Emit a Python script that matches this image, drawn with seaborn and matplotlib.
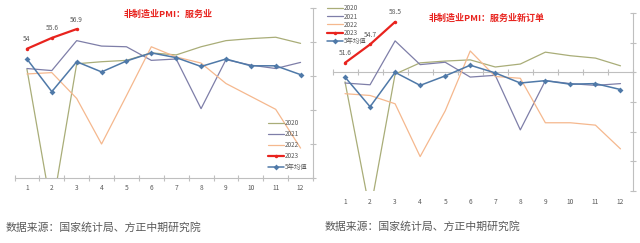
import matplotlib
matplotlib.use("Agg")
import matplotlib.pyplot as plt
import seaborn as sns
import pandas as pd
import numpy as np

months = list(range(1, 13))
month_labels = [str(m) for m in months]

# Left panel: 非制造业PMI：服务业
left_2020 = [51.0, 30.1, 51.8, 52.1, 52.3, 53.4, 53.1, 54.3, 55.2, 55.5, 55.7, 54.8]
left_2021 = [51.1, 50.8, 55.2, 54.4, 54.3, 52.3, 52.5, 45.2, 52.4, 51.6, 51.1, 52.0]
left_2022 = [50.3, 50.5, 46.7, 40.0, 47.1, 54.3, 52.8, 51.9, 48.9, 47.0, 45.1, 39.4]
left_2023 = [54.0, 55.6, 56.9]
left_avg = [52.5, 47.7, 52.1, 50.6, 52.2, 53.4, 52.7, 51.4, 52.5, 51.5, 51.5, 50.2]

# Right panel: 非制造业PMI：服务业新订单
right_2020 = [48.4, 26.5, 49.7, 51.6, 51.9, 52.1, 50.9, 51.4, 53.4, 52.8, 52.4, 51.1]
right_2021 = [48.2, 47.9, 55.3, 51.3, 51.7, 49.2, 49.5, 40.3, 48.6, 48.1, 47.8, 48.1]
right_2022 = [46.4, 46.1, 44.7, 35.8, 43.5, 53.6, 49.3, 49.0, 41.5, 41.5, 41.1, 37.1]
right_2023 = [51.6, 54.7, 58.5]
right_avg = [49.2, 44.2, 50.0, 47.8, 49.4, 51.2, 49.9, 48.2, 48.6, 48.0, 48.1, 47.1]

series_names = ["2020", "2021", "2022", "2023", "5年均值"]
colors = {"2020": "#A9AD78", "2021": "#7E7EA8", "2022": "#F5B88E",
          "2023": "#E8231E", "5年均值": "#4F79A8"}

sns.set_theme(style="white")
plt.rcParams['font.family'] = ['Noto Sans CJK SC', 'DejaVu Sans']
plt.rcParams['axes.unicode_minus'] = False

fig = plt.figure(figsize=(6.4, 2.43), dpi=100)
axL = fig.add_axes([14.5/640, 65/243, (313-14.5)/640, 170/243])
axR = fig.add_axes([332.5/640, 52/243, (633-332.5)/640, 178/243])

def make_df(vals):
    rows = []
    for name, v in zip(series_names, vals):
        for m, y in zip(months, v):
            rows.append({"月": m, "值": y, "系列": name})
    return pd.DataFrame(rows)

def draw(ax, vals):
    df = make_df(vals)
    for name in series_names:
        sub = df[df["系列"] == name]
        if name == "2023":
            sns.lineplot(data=sub, x="月", y="值", ax=ax, color=colors[name],
                         lw=1.6, marker="o", markersize=2.5, markeredgewidth=0,
                         label=name, zorder=5)
        elif name == "5年均值":
            sns.lineplot(data=sub, x="月", y="值", ax=ax, color=colors[name],
                         lw=1.1, marker="D", markersize=3, markeredgewidth=0,
                         label=name, zorder=4)
        else:
            sns.lineplot(data=sub, x="月", y="值", ax=ax, color=colors[name],
                         lw=0.9, label=name, zorder=3)
    ax.set_xlabel("")
    ax.set_ylabel("")
    ax.set_xlim(0.5, 12.5)
    ax.set_xticks(months)
    ax.set_xticklabels(month_labels)
    ax.set_xticks(np.arange(0.5, 13, 1), minor=True)
    for s in ["left", "top"]:
        ax.spines[s].set_visible(False)
    ax.spines["right"].set_color("#BFBFBF")
    ax.spines["right"].set_linewidth(0.8)
    ax.yaxis.tick_right()
    ax.tick_params(axis="y", which="major", right=True, left=False, length=5,
                   direction="inout", color="#BFBFBF", width=0.8, labelright=False)
    # data labels for 2023
    for m, y in zip(months, vals[3]):
        ax.annotate(f"{y:g}", (m, y), xytext=(0, 4), textcoords="offset points",
                    ha="center", va="bottom", fontsize=4.8, color="#595959")

draw(axL, [left_2020, left_2021, left_2022, left_2023, left_avg])
draw(axR, [right_2020, right_2021, right_2022, right_2023, right_avg])

# Left axis specifics
axL.set_ylim(35, 60)
axL.set_yticks(np.arange(35, 61, 5))
axL.spines["bottom"].set_color("#BFBFBF")
axL.spines["bottom"].set_linewidth(0.8)
axL.tick_params(axis="x", which="major", length=0, labelsize=4.8,
                labelcolor="#595959", pad=4)
axL.tick_params(axis="x", which="minor", bottom=True, length=4,
                direction="inout", color="#BFBFBF", width=0.8)
legL = axL.legend(loc="lower right", bbox_to_anchor=(0.995, 0.02), frameon=False,
                  fontsize=4.6, handlelength=2.4, handletextpad=0.2,
                  labelspacing=0.45, borderaxespad=0.2)
for t in legL.get_texts():
    t.set_color("#595959")

# Right axis specifics
axR.set_ylim(30, 60)
axR.set_yticks(np.arange(30, 61, 5))
axR.spines["bottom"].set_visible(False)
axR.spines["top"].set_visible(True)
axR.spines["top"].set_position(("data", 50))
axR.spines["top"].set_color("#BFBFBF")
axR.spines["top"].set_linewidth(0.8)
axR.tick_params(axis="x", which="major", length=0, labelsize=4.8,
                labelcolor="#595959", pad=5, top=False, bottom=False)
axR.tick_params(axis="x", which="minor", top=True, bottom=False, length=4,
                direction="inout", color="#BFBFBF", width=0.8)
legR = axR.legend(loc="upper left", bbox_to_anchor=(-0.03, 1.07), frameon=False,
                  fontsize=4.6, handlelength=2.4, handletextpad=0.2,
                  labelspacing=0.02, borderaxespad=0.2)
for t in legR.get_texts():
    t.set_color("#595959")

# Titles
fig.text(168/640, 1 - 14/243, "非制造业PMI：服务业", ha="center", va="center",
         fontsize=6.5, color="#E8231E", fontweight="bold")
fig.text(487/640, 1 - 18/243, "非制造业PMI：服务业新订单", ha="center", va="center",
         fontsize=6.5, color="#E8231E", fontweight="bold")

# Sources
fig.text(6/640, 1 - 227/243, "数据来源：国家统计局、方正中期研究院", ha="left",
         va="center", fontsize=7.8, color="#595959", style="italic")
fig.text(325/640, 1 - 226/243, "数据来源：国家统计局、方正中期研究院", ha="left",
         va="center", fontsize=7.8, color="#595959", style="italic")

fig.savefig("out.png", dpi=100, facecolor="white")
